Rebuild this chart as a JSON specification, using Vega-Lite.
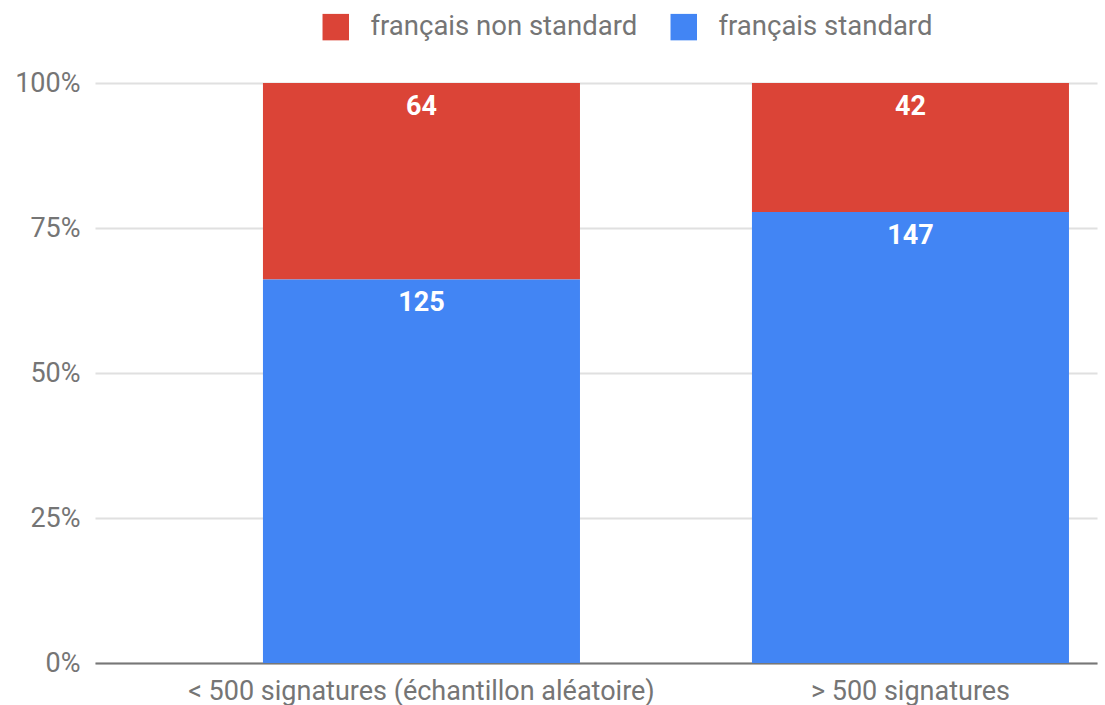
{
  "$schema": "https://vega.github.io/schema/vega-lite/v6.json",
  "autosize": {"type": "none"},
  "padding": {"left": 95, "top": 83, "right": 8, "bottom": 42},
  "width": 1002,
  "height": 580,
  "background": "white",
  "data": {"values": [
    {"cat": "< 500 signatures (échantillon aléatoire)", "type": "français non standard", "n": 64},
    {"cat": "< 500 signatures (échantillon aléatoire)", "type": "français standard", "n": 125},
    {"cat": "> 500 signatures", "type": "français non standard", "n": 42},
    {"cat": "> 500 signatures", "type": "français standard", "n": 147}
  ]},
  "encoding": {
    "x": {"field": "cat", "type": "nominal", "sort": null,
      "scale": {"paddingInner": 0.3517, "paddingOuter": 0.2004, "align": 0.857},
      "axis": {"title": null, "labelAngle": 0, "ticks": false, "domain": true, "domainColor": "#777777", "domainWidth": 2, "grid": false,
        "labelFont": "Roboto", "labelFontSize": 27, "labelColor": "#757575", "labelPadding": 15, "labelLimit": 800}},
    "y": {"field": "n", "type": "quantitative", "stack": "normalize",
      "axis": {"title": null, "format": ".0%", "values": [0, 0.25, 0.5, 0.75, 1], "ticks": false, "domain": false,
        "labelFont": "Roboto", "labelFontSize": 27, "labelColor": "#757575", "labelPadding": 15,
        "gridColor": "#e0e0e0", "gridWidth": 2}},
    "order": {"field": "type", "sort": "descending"}
  },
  "layer": [
    {
      "mark": {"type": "bar"},
      "encoding": {
        "color": {"field": "type", "type": "nominal",
          "scale": {"domain": ["français non standard", "français standard"], "range": ["#db4437", "#4285f4"]},
          "legend": {"title": null, "orient": "none", "direction": "horizontal", "legendX": 227, "legendY": -70,
            "symbolType": "square", "symbolSize": 700, "symbolStrokeWidth": 0, "symbolOpacity": 1,
            "labelFont": "Roboto", "labelFontSize": 27.5, "labelColor": "#757575", "labelOffset": 21,
            "columnPadding": 32, "labelLimit": 400}}
      }
    },
    {
      "mark": {"type": "text", "baseline": "top", "dy": 11, "font": "Roboto", "fontSize": 27, "fontWeight": "bold", "color": "white"},
      "encoding": {"text": {"field": "n", "type": "quantitative"}}
    }
  ],
  "config": {"view": {"stroke": null}}
}
